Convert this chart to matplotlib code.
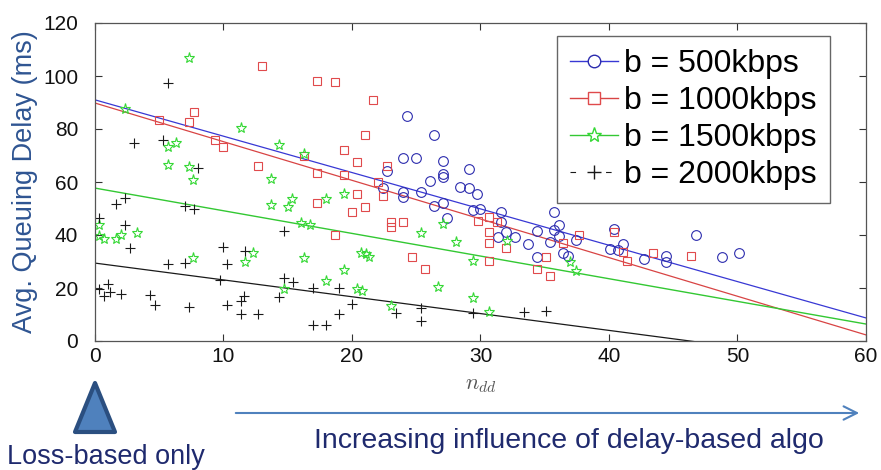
import matplotlib
matplotlib.use('Agg')
import matplotlib.pyplot as plt
from matplotlib.lines import Line2D
from matplotlib.patches import Polygon, FancyArrowPatch

plt.rcParams['font.family'] = ['Liberation Sans', 'DejaVu Sans']
plt.rcParams['mathtext.fontset'] = 'cm'

# scatter data (n_dd, avg queuing delay in ms)
x_500 = [22.4, 22.7, 24.0, 24.3, 25.0, 24.0, 24.0, 25.4, 26.1, 26.4, 26.4, 27.1, 27.1, 27.1,
         27.1, 27.4, 28.4, 29.1, 29.1, 29.7, 29.4, 30.0, 31.6, 31.6, 31.4, 32.0, 32.7, 33.7,
         34.4, 34.4, 35.7, 36.1, 35.7, 36.1, 35.4, 36.4, 36.8, 37.4, 40.4, 40.1, 40.7, 41.1,
         42.7, 44.4, 44.4, 46.8, 48.8, 50.1]
y_500 = [57.6, 64.2, 68.9, 85.0, 69.2, 56.4, 54.5, 56.1, 60.5, 77.7, 51.1, 67.9, 63.0, 61.8,
         52.0, 46.6, 58.3, 57.9, 64.8, 55.5, 49.4, 49.7, 48.8, 45.0, 39.1, 41.3, 39.4, 36.5,
         41.5, 31.8, 48.5, 43.8, 41.9, 39.6, 37.5, 33.3, 32.1, 38.1, 42.3, 34.6, 34.3, 36.5,
         30.9, 32.1, 29.9, 40.0, 31.8, 33.1]

x_1000 = [5.0, 7.3, 7.7, 9.3, 10.0, 13.0, 17.3, 18.7, 21.6, 21.0, 19.4, 20.4, 12.7, 17.3,
          19.4, 20.4, 21.0, 17.3, 20.0, 18.7, 16.3, 22.7, 22.0, 22.4, 23.0, 23.0, 24.0, 24.7,
          25.7, 29.8, 30.7, 30.7, 30.7, 30.7, 31.3, 32.0, 35.1, 34.4, 35.4, 36.4, 37.7, 40.4,
          41.1, 41.4, 43.4, 46.4]
y_1000 = [83.5, 82.6, 86.3, 76.0, 73.2, 103.7, 98.2, 97.9, 91.1, 77.9, 72.2, 67.7, 65.9, 63.4,
          62.8, 55.6, 50.6, 52.0, 48.6, 39.9, 69.7, 66.0, 60.1, 54.7, 44.8, 43.1, 45.0, 31.6,
          27.1, 45.3, 46.7, 41.0, 37.1, 30.3, 45.0, 35.0, 31.8, 27.2, 24.7, 36.8, 40.0, 41.3,
          33.7, 30.3, 33.1, 32.2]

x_1500 = [7.3, 2.3, 5.7, 6.3, 5.7, 7.3, 7.6, 0.3, 0.3, 0.7, 1.6, 2.0, 3.3, 7.6, 11.4, 14.3,
          16.3, 13.7, 15.3, 13.7, 15.0, 18.0, 19.4, 16.0, 16.7, 12.3, 11.7, 16.3, 19.4, 18.0,
          14.7, 20.7, 21.1, 21.3, 20.4, 20.8, 25.4, 27.1, 28.1, 29.4, 26.7, 29.4, 23.0, 30.7,
          32.1, 37.0, 37.4]
y_1500 = [106.8, 87.5, 73.1, 74.7, 66.3, 65.5, 60.8, 43.7, 39.7, 38.6, 38.6, 39.9, 40.6, 31.3,
          80.2, 73.8, 70.7, 61.1, 53.7, 51.4, 50.7, 53.7, 55.6, 44.4, 43.9, 33.2, 29.7, 31.4,
          26.7, 22.5, 19.7, 33.2, 33.0, 31.6, 19.7, 19.0, 40.9, 44.0, 37.4, 30.2, 20.5, 16.4,
          13.2, 11.1, 37.8, 29.9, 26.4]

x_2000 = [5.7, 3.0, 5.3, 8.0, 1.6, 2.3, 7.0, 7.7, 0.3, 2.3, 2.7, 10.0, 5.7, 7.0, 10.3, 9.7,
          0.3, 1.0, 0.7, 1.2, 2.0, 4.3, 4.7, 7.3, 10.3, 14.7, 11.7, 14.7, 15.4, 14.3, 17.0,
          19.0, 11.6, 11.4, 11.4, 12.7, 20.0, 19.0, 17.0, 18.0, 23.4, 25.4, 25.4, 29.4, 33.4,
          35.1]
y_2000 = [97.4, 74.7, 75.7, 65.2, 51.8, 53.8, 50.8, 49.8, 46.4, 43.7, 35.2, 35.5, 29.2, 29.4,
          29.2, 23.1, 19.7, 21.5, 16.9, 18.4, 17.9, 17.2, 13.7, 12.8, 13.7, 41.4, 34.1, 23.8,
          22.3, 16.5, 20.0, 20.0, 16.9, 15.0, 10.2, 10.2, 14.0, 10.2, 5.9, 5.9, 10.7, 12.3,
          7.5, 10.7, 11.1, 11.3]

# fitted trend lines, values at n_dd = 0 and 60
fit_x = [0, 60]
fit_500 = [91.0, 8.7]
fit_1000 = [89.8, 2.3]
fit_1500 = [57.7, 6.4]
fit_2000 = [29.4, -8.7]

labels = ['b = 500kbps', 'b = 1000kbps', 'b = 1500kbps', 'b = 2000kbps']

fig = plt.figure(figsize=(8.81, 4.70), dpi=100)
W, H = 881.0, 470.0
ax = fig.add_axes([95 / W, 1 - 341 / H, (866 - 95) / W, (341 - 23) / H])

blue, blue_l = '#2c2cae', '#3838d4'
red, red_l = '#e04a4c', '#d84444'
green, green_l = '#36d836', '#33c833'
black = '#1a1a1a'

ax.plot(fit_x, fit_500, color=blue_l, lw=0.9)
ax.plot(fit_x, fit_1000, color=red_l, lw=0.9)
ax.plot(fit_x, fit_1500, color=green_l, lw=1.0)
ax.plot(fit_x, fit_2000, color=black, lw=0.9)

ax.plot(x_500, y_500, ls='none', marker='o', ms=7, mfc='none', mec=blue, mew=0.8)
ax.plot(x_1000, y_1000, ls='none', marker='s', ms=5.3, mfc='none', mec=red, mew=0.8)
ax.plot(x_1500, y_1500, ls='none', marker='*', ms=8, mfc='none', mec=green, mew=0.8)
ax.plot(x_2000, y_2000, ls='none', marker='+', ms=6.5, color=black, mew=0.8)

ax.set_xlim(0, 60)
ax.set_ylim(0, 120)
ax.set_xticks(range(0, 61, 10))
ax.set_yticks(range(0, 121, 20))
ax.tick_params(direction='in', top=True, right=True, length=5, width=0.8, colors='#333333',
               labelsize=15, labelcolor='#111111')
ax.tick_params(axis='y', pad=12)
ax.tick_params(axis='x', pad=4)
for s in ax.spines.values():
    s.set_color('#555555')
    s.set_linewidth(0.9)

ax.set_ylabel('Avg. Queuing Delay (ms)', fontsize=19.5, color='#2f5592', labelpad=4)
ax.set_xlabel(r'$n_{dd}$', fontsize=16, color='#555555', labelpad=6)

handles = [
    Line2D([], [], color=blue_l, marker='o', ms=9, mfc='white', mec=blue, lw=1),
    Line2D([], [], color=red_l, marker='s', ms=8, mfc='white', mec=red, lw=1),
    Line2D([], [], color=green_l, marker='*', ms=11, mfc='white', mec=green, lw=1),
    Line2D([], [], color=black, marker='+', ms=10, lw=0.8, ls=(0, (5, 27))),
]
leg = ax.legend(handles, labels, loc='upper right', bbox_to_anchor=(0.953, 0.959),
                borderaxespad=0, fontsize=23, frameon=True, fancybox=False,
                framealpha=1, edgecolor='#666666', borderpad=0.4, labelspacing=0.22,
                handlelength=1.5, handletextpad=0.2)
leg.get_frame().set_linewidth(1.0)

# annotations under the axis
tri = Polygon([(75 / W, 1 - 432 / H), (115 / W, 1 - 432 / H), (95 / W, 1 - 383 / H)],
              closed=True, transform=fig.transFigure, facecolor='#4f81bd',
              edgecolor='#2b4f80', lw=3, joinstyle='round')
fig.patches.append(tri)
fig.text(106 / W, 1 - 457 / H, 'Loss-based only', fontsize=19.5, color='#1f2a6e',
         ha='center', va='center')

arr = FancyArrowPatch((233 / W, 1 - 413 / H), (862 / W, 1 - 413 / H),
                      transform=fig.transFigure, arrowstyle='->', mutation_scale=24,
                      color='#4f81bd', lw=1.5)
fig.patches.append(arr)
fig.text(569 / W, 1 - 441 / H, 'Increasing influence of delay-based algo', fontsize=20.5,
         color='#1f2a6e', ha='center', va='center')

fig.savefig('out.png', dpi=100)
